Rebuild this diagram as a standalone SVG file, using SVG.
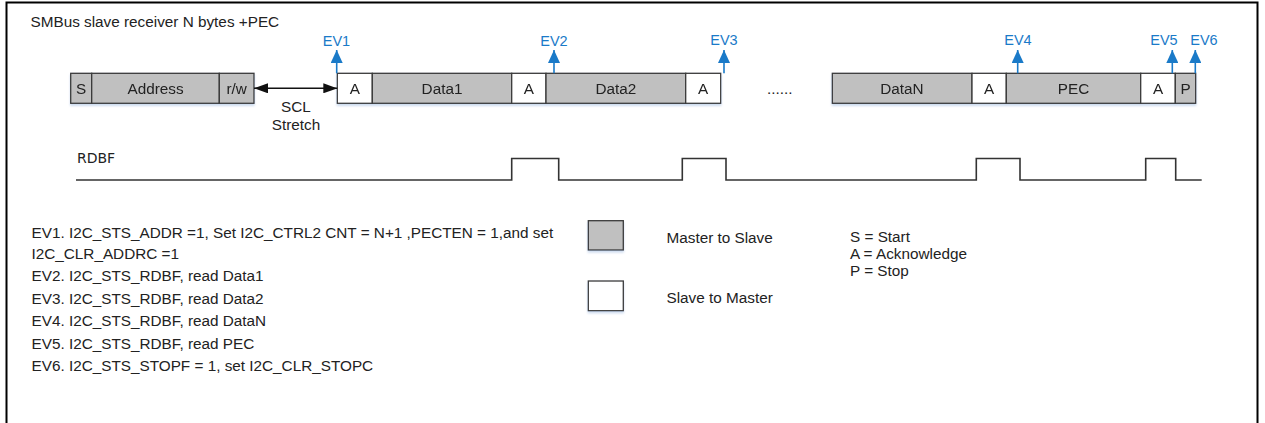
<svg xmlns="http://www.w3.org/2000/svg" width="1265" height="423" viewBox="0 0 1265 423">
<style>
  text { font-family: "Liberation Sans", Arial, sans-serif; font-size: 15.3px; fill: #222; }
  .c { text-anchor: middle; }
  .ev { fill: #1a7ac8; font-size: 14.5px; text-anchor: middle; }
  .m { fill: #c0c0c0; stroke: #3a3a3a; stroke-width: 1.3; }
  .s { fill: #ffffff; stroke: #3a3a3a; stroke-width: 1.3; }
  .evl { stroke: #1a7ac8; stroke-width: 1.6; fill: none; }
  .sig { fill: none; stroke: #333; stroke-width: 1.6; }
  .rd { font-family: "DejaVu Sans", Verdana, sans-serif; font-size: 14px; }
</style>
<defs>
  <marker id="evh" viewBox="0 0 13 12" refX="13" refY="6" markerWidth="13" markerHeight="12" markerUnits="userSpaceOnUse" orient="auto">
    <path d="M0,0 L13,6 L0,12 Z" fill="#1a7ac8"/>
  </marker>
  <marker id="bk" viewBox="0 0 14 10" refX="14" refY="5" markerWidth="14" markerHeight="10" markerUnits="userSpaceOnUse" orient="auto-start-reverse">
    <path d="M0,0 L14,5 L0,10 Z" fill="#111"/>
  </marker>
  <filter id="sh" x="-5%" y="-20%" width="110%" height="150%">
    <feDropShadow dx="0" dy="2" stdDeviation="1.2" flood-color="#8fb0dc" flood-opacity="0.45"/>
  </filter>
</defs>
<rect x="0" y="0" width="1265" height="423" fill="#fff"/>
<rect id="frame" x="6.5" y="2.5" width="1251" height="440" fill="none" stroke="#000" stroke-width="2"/>

<text id="title" x="30.5" y="26.5">SMBus slave receiver N bytes +PEC</text>

<g id="frame-bytes" filter="url(#sh)">
  <g id="n-s"><rect class="m" x="70.7" y="73.3" width="21" height="30"/><text class="c" x="81.2" y="94">S</text></g>
  <g id="n-address"><rect class="m" x="91.7" y="73.3" width="127.6" height="30"/><text class="c" x="155.5" y="94">Address</text></g>
  <g id="n-rw"><rect class="m" x="219.3" y="73.3" width="34.7" height="30"/><text class="c" x="236.7" y="94">r/w</text></g>
  <g id="n-a1"><rect class="s" x="337.3" y="73.3" width="35" height="30"/><text class="c" x="354.8" y="94">A</text></g>
  <g id="n-data1"><rect class="m" x="372.3" y="73.3" width="139.4" height="30"/><text class="c" x="442" y="94">Data1</text></g>
  <g id="n-a2"><rect class="s" x="511.7" y="73.3" width="34.3" height="30"/><text class="c" x="528.8" y="94">A</text></g>
  <g id="n-data2"><rect class="m" x="546" y="73.3" width="139.7" height="30"/><text class="c" x="615.8" y="94">Data2</text></g>
  <g id="n-a3"><rect class="s" x="685.7" y="73.3" width="35" height="30"/><text class="c" x="703.2" y="94">A</text></g>
  <g id="n-datan"><rect class="m" x="832.3" y="73.3" width="139.7" height="30"/><text class="c" x="902" y="94">DataN</text></g>
  <g id="n-a4"><rect class="s" x="972" y="73.3" width="34.3" height="30"/><text class="c" x="989.2" y="94">A</text></g>
  <g id="n-pec"><rect class="m" x="1006.3" y="73.3" width="134.4" height="30"/><text class="c" x="1073.5" y="94">PEC</text></g>
  <g id="n-a5"><rect class="s" x="1140.7" y="73.3" width="34.6" height="30"/><text class="c" x="1158" y="94">A</text></g>
  <g id="n-p"><rect class="m" x="1175.3" y="73.3" width="20.4" height="30"/><text class="c" x="1185.5" y="94">P</text></g>
</g>
<text id="dots" x="767" y="94">......</text>

<g id="connectors">
  <line x1="254" y1="88.3" x2="337.3" y2="88.3" stroke="#111" stroke-width="1.4" marker-start="url(#bk)" marker-end="url(#bk)"/>
  <line class="evl" x1="336.7" y1="73.3" x2="336.7" y2="50" marker-end="url(#evh)"/>
  <line class="evl" x1="554" y1="73.3" x2="554" y2="50" marker-end="url(#evh)"/>
  <line class="evl" x1="724" y1="73.3" x2="724" y2="50" marker-end="url(#evh)"/>
  <line class="evl" x1="1017.7" y1="73.3" x2="1017.7" y2="50" marker-end="url(#evh)"/>
  <line class="evl" x1="1172.3" y1="73.3" x2="1172.3" y2="50" marker-end="url(#evh)"/>
  <line class="evl" x1="1195.3" y1="73.3" x2="1195.3" y2="50" marker-end="url(#evh)"/>
</g>

<g id="scl-label">
  <text class="c" x="296" y="112">SCL</text>
  <text class="c" x="296" y="129.5">Stretch</text>
</g>

<g id="ev-labels">
  <text class="ev" x="336.5" y="46">EV1</text>
  <text class="ev" x="554" y="46">EV2</text>
  <text class="ev" x="724" y="45">EV3</text>
  <text class="ev" x="1018" y="44.5">EV4</text>
  <text class="ev" x="1164" y="44.5">EV5</text>
  <text class="ev" x="1204" y="44.5">EV6</text>
</g>

<g id="rdbf">
  <text class="rd" x="77" y="163">RDBF</text>
  <path class="sig" d="M76,180 H511.7 V158.5 H558.7 V180 H682.3 V158.5 H726 V180 H976.3 V158.5 H1020 V180 H1145.7 V158.5 H1175.7 V180 H1201.7"/>
</g>

<g id="events">
  <text x="31.5" y="238">EV1. I2C_STS_ADDR =1, Set I2C_CTRL2 CNT = N+1 ,PECTEN = 1,and set</text>
  <text x="31.5" y="258.5">I2C_CLR_ADDRC =1</text>
  <text x="31.5" y="281">EV2. I2C_STS_RDBF, read Data1</text>
  <text x="31.5" y="303.5">EV3. I2C_STS_RDBF, read Data2</text>
  <text x="31.5" y="326">EV4. I2C_STS_RDBF, read DataN</text>
  <text x="31.5" y="348.5">EV5. I2C_STS_RDBF, read PEC</text>
  <text x="31.5" y="371">EV6. I2C_STS_STOPF = 1, set I2C_CLR_STOPC</text>
</g>

<g id="legend">
  <g id="lg-master" filter="url(#sh)"><rect class="m" x="588.3" y="220.7" width="35" height="29.3"/></g>
  <text x="666.5" y="243">Master to Slave</text>
  <g id="lg-slave" filter="url(#sh)"><rect class="s" x="588.3" y="281" width="35" height="29.7"/></g>
  <text x="666.5" y="302.5">Slave to Master</text>
  <text x="850" y="242">S = Start</text>
  <text x="850" y="259">A = Acknowledge</text>
  <text x="850" y="276">P = Stop</text>
</g>
</svg>
